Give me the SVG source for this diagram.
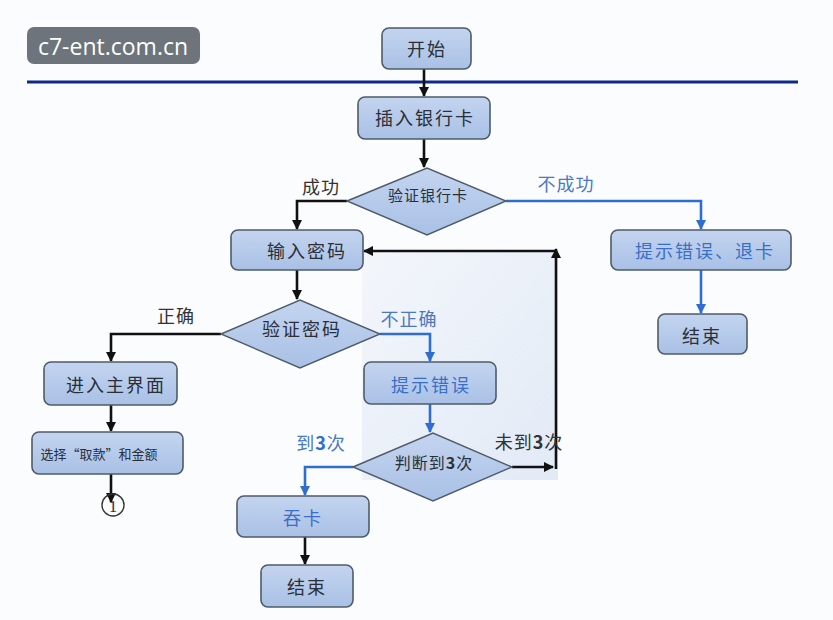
<svg xmlns="http://www.w3.org/2000/svg" width="833" height="620" viewBox="0 0 833 620">
<style>
.box{fill:url(#nodeFill);stroke:#4f5b68;stroke-width:1.6}
.dia{fill:url(#nodeFill);stroke:#4f5b68;stroke-width:1.4}
.t{font-family:"Noto Sans CJK SC","Noto Sans",sans-serif;font-size:18px;fill:#2a2f38;text-anchor:middle;dominant-baseline:central;letter-spacing:2px}
.tb{fill:#3b6fc6}
.lbl{font-family:"Noto Sans CJK SC","Noto Sans",sans-serif;font-size:18px;fill:#333;text-anchor:middle;dominant-baseline:central;letter-spacing:1px}
.lblb{fill:#4a78c2}
.k{fill:none;stroke:#111;stroke-width:2.6}
.b{fill:none;stroke:#2f6dd0;stroke-width:2.6}
</style>
<defs>
<linearGradient id="nodeFill" x1="0" y1="0" x2="0" y2="1">
<stop offset="0" stop-color="#c3d4ef"/>
<stop offset="1" stop-color="#a9c1e6"/>
</linearGradient>
<linearGradient id="panel" x1="0" y1="0" x2="1" y2="1">
<stop offset="0" stop-color="#f3f6fb"/>
<stop offset="1" stop-color="#e2eaf6"/>
</linearGradient>
<marker id="ak" viewBox="0 0 10 10" refX="9" refY="5" markerWidth="4" markerHeight="4" orient="auto">
<path d="M0,0 L10,5 L0,10 z" fill="#111"/>
</marker>
<marker id="ab" viewBox="0 0 10 10" refX="9" refY="5" markerWidth="4" markerHeight="4" orient="auto">
<path d="M0,0 L10,5 L0,10 z" fill="#2f6dd0"/>
</marker>
</defs>
<rect width="833" height="620" fill="#fbfcfe"/>
<rect x="362" y="252" width="196" height="228" fill="url(#panel)"/>
<g id="watermark">
<rect x="27" y="27" width="173" height="37" rx="7" fill="#6d747b"/>
<text x="113" y="46" font-family="'Open Sans','Noto Sans',sans-serif" font-size="23" fill="#ffffff" text-anchor="middle" dominant-baseline="central">c7-ent.com.cn</text>
</g>
<line x1="27" y1="82" x2="798" y2="82" stroke="#0c2a86" stroke-width="3"/>
<g id="connectors">
<line class="k" x1="424" y1="69" x2="424" y2="96" marker-end="url(#ak)"/>
<line class="k" x1="424" y1="139" x2="424" y2="167" marker-end="url(#ak)"/>
<polyline class="k" points="347,201 297,201 297,229" marker-end="url(#ak)"/>
<polyline class="b" points="506,201 701,201 701,229" marker-end="url(#ab)"/>
<line class="b" x1="701" y1="270" x2="701" y2="313" marker-end="url(#ab)"/>
<line class="k" x1="297" y1="270" x2="297" y2="299" marker-end="url(#ak)"/>
<polyline class="k" points="221,334 111,334 111,361" marker-end="url(#ak)"/>
<line class="k" x1="111" y1="405" x2="111" y2="431" marker-end="url(#ak)"/>
<line class="k" x1="111" y1="474" x2="111" y2="502" marker-end="url(#ak)"/>
<polyline class="b" points="380,334 430,334 430,361" marker-end="url(#ab)"/>
<line class="b" x1="430" y1="404" x2="430" y2="432" marker-end="url(#ab)"/>
<polyline class="b" points="353,467 305,467 305,495" marker-end="url(#ab)"/>
<line class="k" x1="305" y1="537" x2="305" y2="564" marker-end="url(#ak)"/>
<line class="k" x1="512" y1="467" x2="553" y2="467" marker-end="url(#ak)"/>
<line class="k" x1="556" y1="469" x2="556" y2="249" marker-end="url(#ak)"/>
<line class="k" x1="556" y1="251" x2="364" y2="251" marker-end="url(#ak)"/>
</g>
<g id="n-start"><rect class="box" x="382" y="28" width="89" height="41" rx="7"/><text class="t" x="427" y="48">开始</text></g>
<g id="n-insert"><rect class="box" x="358" y="97" width="132" height="42" rx="7"/><text class="t" x="425" y="117">插入银行卡</text></g>
<g id="n-verifycard"><polygon class="dia" points="347,201 427,168 506,201 427,235"/><text class="t" x="428" y="194" style="font-size:15px;letter-spacing:1px">验证银行卡</text></g>
<g id="n-pwd"><rect class="box" x="231" y="230" width="132" height="40" rx="7"/><text class="t" x="307" y="250">输入密码</text></g>
<g id="n-err-eject"><rect class="box" x="611" y="230" width="180" height="40" rx="7"/><text class="t tb" x="705" y="250">提示错误、退卡</text></g>
<g id="n-end1"><rect class="box" x="658" y="314" width="89" height="40" rx="7"/><text class="t" x="702" y="335">结束</text></g>
<g id="n-verifypwd"><polygon class="dia" points="221,334 300,300 380,334 300,368"/><text class="t" x="302" y="328">验证密码</text></g>
<g id="n-main"><rect class="box" x="44" y="362" width="133" height="43" rx="7"/><text class="t" x="116" y="384">进入主界面</text></g>
<g id="n-select"><rect class="box" x="32" y="432" width="151" height="42" rx="7"/><text class="t" x="99" y="453" style="font-size:13px;letter-spacing:0px">选择“取款”和金额</text></g>
<g id="n-conn1"><circle cx="113" cy="505" r="11" fill="none" stroke="#333" stroke-width="1.4"/><text x="113" y="506" font-family="'Liberation Serif',serif" font-size="17" fill="#333" text-anchor="middle" dominant-baseline="central">1</text></g>
<g id="n-errmsg"><rect class="box" x="364" y="362" width="132" height="42" rx="7"/><text class="t tb" x="431" y="384">提示错误</text></g>
<g id="n-count"><polygon class="dia" points="353,467 433,433 512,467 433,501"/><text class="t" x="434" y="462" style="font-size:16px;letter-spacing:1px">判断到<tspan font-weight="bold">3</tspan>次</text></g>
<g id="n-swallow"><rect class="box" x="237" y="496" width="132" height="41" rx="7"/><text class="t tb" x="303" y="517">吞卡</text></g>
<g id="n-end2"><rect class="box" x="261" y="565" width="92" height="42" rx="7"/><text class="t" x="307" y="586">结束</text></g>
<g id="labels">
<text class="lbl" x="321" y="186">成功</text>
<text class="lbl lblb" x="566" y="183">不成功</text>
<text class="lbl" x="176" y="315">正确</text>
<text class="lbl lblb" x="409" y="318">不正确</text>
<text class="lbl lblb" x="321" y="442">到<tspan font-weight="bold" fill="#2f6dd0">3</tspan>次</text>
<text class="lbl" x="529" y="441">未到<tspan font-weight="bold">3</tspan>次</text>
</g>
</svg>
